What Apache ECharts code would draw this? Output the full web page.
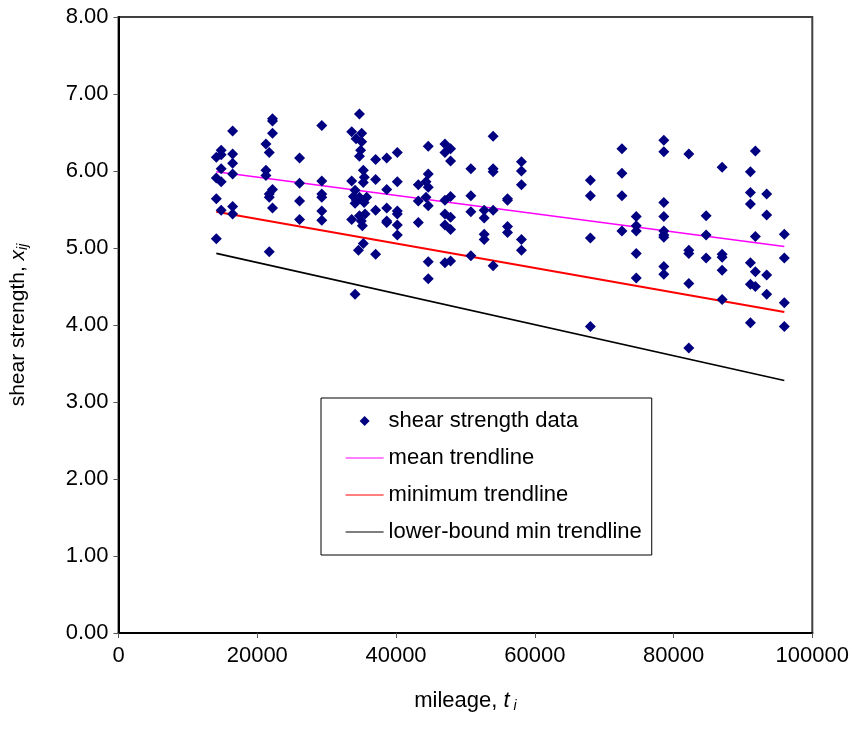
<!DOCTYPE html>
<html>
<head>
<meta charset="utf-8">
<script src="https://cdn.jsdelivr.net/npm/echarts@6/dist/echarts.min.js"></script>
<style>html,body{margin:0;padding:0;background:#fff}#c{width:852px;height:733px}</style>
</head>
<body>
<div id="c"></div>
<script>
// shear strength data points (mileage, strength)
var mileage = [
 14100,14100,14100,14100,
 14800,14800,14800,14800,14800,
 16450,16450,16450,16450,16450,16450,
 21250,21250,21250,
 21730,21730,21730,21730,
 22200,22200,22200,22200,22200,
 26100,26100,26100,26100,
 29300,29300,29300,29300,29300,29300,
 34730,33610,35050,34240,35050,34900,34730,35290,35430,33610,35290,34100,33860,34730,35770,34100,33610,34730,35540,35000,35150,35290,34580,34100,34300,35400,
 37060,37060,37060,37060,
 38660,38660,38660,38660,38660,
 40190,40190,40190,40190,40190,40190,
 43210,43210,43210,
 44320,44320,
 44650,44650,44650,44650,44650,44650,
 47050,47050,47050,47050,47050,47050,
 47860,47860,47860,47860,47860,47860,
 50790,50790,50790,50790,
 52710,52710,52710,52710,
 54000,54000,54000,54000,54000,
 56070,56070,56070,56070,
 58080,58080,58080,58080,58080,
 68010,68010,68010,68010,
 72560,72560,72560,72560,
 74630,74630,74630,74630,74630,
 78600,78600,78600,78600,78600,78600,78600,78600,78600,
 82200,82200,82200,82200,82200,
 84700,84700,84700,
 87000,87000,87000,87000,87000,
 91080,91080,91080,91080,91080,91080,
 91800,91800,91800,91800,
 93430,93430,93430,93430,
 95970,95970,95970,95970
];
var strength = [
 6.18,5.91,5.64,5.12,
 6.27,6.21,6.03,5.86,5.49,
 6.52,6.22,6.10,5.96,5.54,5.44,
 6.35,6.01,5.94,
 6.24,5.70,5.66,4.95,
 6.68,6.65,6.49,5.76,5.52,
 6.17,5.84,5.61,5.37,
 6.59,5.87,5.70,5.66,5.48,5.36,
 6.74,6.51,6.49,6.42,6.38,6.27,6.19,6.01,5.92,5.87,5.85,5.75,5.67,5.66,5.66,5.58,5.37,5.42,5.44,5.35,5.29,5.06,4.97,4.40,5.62,5.59,
 6.15,5.89,5.49,4.92,
 6.17,5.76,5.52,5.35,5.33,
 6.24,5.86,5.48,5.44,5.30,5.17,
 5.82,5.61,5.33,
 5.86,5.66,
 6.32,5.96,5.79,5.55,4.82,4.60,
 6.35,6.24,5.62,5.44,5.30,4.81,
 6.29,6.13,5.67,5.40,5.24,4.83,
 6.03,5.68,5.47,4.90,
 5.49,5.39,5.18,5.11,
 6.45,6.03,5.99,5.49,4.77,
 5.64,5.62,5.28,5.20,
 6.12,6.00,5.82,5.11,4.97,
 5.88,5.68,5.13,3.98,
 6.29,5.97,5.68,5.22,
 5.41,5.29,5.22,4.93,4.61,
 6.40,6.25,5.59,5.41,5.22,5.17,5.14,4.76,4.66,
 6.22,4.97,4.93,4.54,3.70,
 5.42,5.17,4.87,
 6.05,4.92,4.88,4.71,4.33,
 5.99,5.72,5.57,4.81,4.53,4.03,
 6.26,5.15,4.69,4.50,
 5.70,5.43,4.65,4.40,
 5.18,4.87,4.29,3.98
];
// trendline end points
var trendMileage = [14100, 95970];
var meanTrend = [5.99, 5.02];
var minTrend = [5.47, 4.17];
var lowerTrend = [4.93, 3.28];
var xTicks = [0, 20000, 40000, 60000, 80000, 100000];
var yTicks = [0, 1, 2, 3, 4, 5, 6, 7, 8];
var seriesNames = ['shear strength data', 'mean trendline', 'minimum trendline', 'lower-bound min trendline'];

function pairs(xs, ys) { return xs.map(function (x, i) { return [x, ys[i]]; }); }

var FONT = 'Liberation Sans';
var FS = 22;
// small diamond centred in a wide legend icon box (degenerate corner points fix the box)
var legendDiamond = 'path://M0,0 L0,0 M38,10 L38,10 M19,0 L24,5 L19,10 L14,5 Z';
var chart = echarts.init(document.getElementById('c'), null, { renderer: 'canvas' });
chart.setOption({
  animation: false,
  backgroundColor: '#fff',
  grid: { left: 118, right: 39, top: 17, bottom: 100, show: true, borderColor: '#404040', borderWidth: 2, backgroundColor: 'transparent' },
  xAxis: {
    type: 'value', min: xTicks[0], max: xTicks[xTicks.length - 1], interval: 20000,
    splitLine: { show: false },
    axisLine: { lineStyle: { color: '#000', width: 2 } },
    axisTick: { show: true, length: 5, lineStyle: { color: '#555' } },
    axisLabel: { color: '#000', fontFamily: FONT, fontSize: FS, margin: 12, formatter: function (v) { return String(v); } },
    name: '{a|mileage, }{b|t}{c| i}',
    nameLocation: 'middle', nameGap: 56,
    nameTextStyle: {
      rich: {
        a: { fontFamily: FONT, fontSize: FS, color: '#000' },
        b: { fontFamily: FONT, fontSize: FS, fontStyle: 'italic', color: '#000' },
        c: { fontFamily: FONT, fontSize: 14, fontStyle: 'italic', color: '#000', padding: [10, 0, 0, 0] }
      }
    }
  },
  yAxis: {
    type: 'value', min: yTicks[0], max: yTicks[yTicks.length - 1], interval: 1,
    splitLine: { show: false },
    axisLine: { show: true, lineStyle: { color: '#000', width: 2 } },
    axisTick: { show: true, length: 5, lineStyle: { color: '#555' } },
    axisLabel: { color: '#000', fontFamily: FONT, fontSize: FS, margin: 10, formatter: function (v) { return v.toFixed(2); } },
    name: '{a|shear strength, }{b|x}{c|ij}',
    nameLocation: 'middle', nameGap: 88, nameRotate: 90,
    nameTextStyle: {
      rich: {
        a: { fontFamily: FONT, fontSize: FS - 1, color: '#000' },
        b: { fontFamily: FONT, fontSize: FS - 1, fontStyle: 'italic', color: '#000' },
        c: { fontFamily: FONT, fontSize: 14, fontStyle: 'italic', color: '#000', padding: [10, 0, 0, 0] }
      }
    }
  },
  legend: {
    orient: 'vertical', left: 321, top: 398,
    backgroundColor: '#fff', borderColor: '#000', borderWidth: 1,
    padding: [12, 10, 12, 24], itemGap: 15, itemWidth: 38, itemHeight: 10,
    textStyle: { fontFamily: FONT, fontSize: FS, color: '#000' },
    data: [
      { name: seriesNames[0], icon: legendDiamond },
      { name: seriesNames[1], itemStyle: { opacity: 0 }, lineStyle: { width: 1.2 } },
      { name: seriesNames[2], itemStyle: { opacity: 0 }, lineStyle: { width: 1.2 } },
      { name: seriesNames[3], itemStyle: { opacity: 0 }, lineStyle: { width: 1.2 } }
    ]
  },
  series: [
    {
      name: seriesNames[0], type: 'scatter', symbol: 'diamond', symbolSize: 11,
      itemStyle: { color: '#000080', opacity: 1 }, data: pairs(mileage, strength), z: 5
    },
    {
      name: seriesNames[1], type: 'line', symbol: 'none', data: pairs(trendMileage, meanTrend),
      lineStyle: { color: '#FF00FF', width: 1.6 }, itemStyle: { color: '#FF00FF' }, z: 3
    },
    {
      name: seriesNames[2], type: 'line', symbol: 'none', data: pairs(trendMileage, minTrend),
      lineStyle: { color: '#FF0000', width: 2 }, itemStyle: { color: '#FF0000' }, z: 3
    },
    {
      name: seriesNames[3], type: 'line', symbol: 'none', data: pairs(trendMileage, lowerTrend),
      lineStyle: { color: '#000', width: 1.6 }, itemStyle: { color: '#000' }, z: 3
    }
  ]
});
</script>
</body>
</html>
